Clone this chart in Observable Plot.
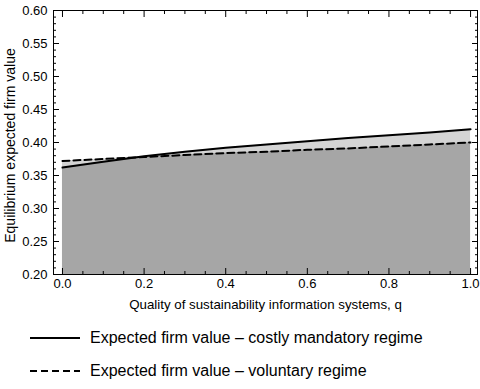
<!DOCTYPE html>
<html>
<head>
<meta charset="utf-8">
<script src="https://cdn.jsdelivr.net/npm/d3@7"></script>
<script src="https://cdn.jsdelivr.net/npm/@observablehq/plot@0.6"></script>
<style>
  body { margin: 0; background: #fff; font-family: "Liberation Sans", Arial, sans-serif; }
  #legend { padding-top: 6px; }
  .row { display: flex; align-items: center; height: 33px; }
  .row svg { margin-left: 30px; margin-right: 10px; }
  .row span { font-size: 16px; color: #000; }
</style>
</head>
<body>
<div id="chart"></div>
<div id="legend"></div>
<script>
const q = [0, 0.1, 0.2, 0.3, 0.4, 0.5, 0.6, 0.7, 0.8, 0.9, 1.0];
const mandatory = [0.362, 0.371, 0.379, 0.386, 0.392, 0.397, 0.402, 0.407, 0.411, 0.415, 0.420];
const voluntary = [0.372, 0.375, 0.378, 0.381, 0.384, 0.386, 0.389, 0.391, 0.394, 0.397, 0.400];
const seriesNames = ["Expected firm value \u2013 costly mandatory regime", "Expected firm value \u2013 voluntary regime"];
const xMajor = [0, 0.2, 0.4, 0.6, 0.8, 1.0];
const xMinor = [0.05, 0.1, 0.15, 0.25, 0.3, 0.35, 0.45, 0.5, 0.55, 0.65, 0.7, 0.75, 0.85, 0.9, 0.95];
const yMajor = [0.20, 0.25, 0.30, 0.35, 0.40, 0.45, 0.50, 0.55, 0.60];
const yMinor = d3.range(21, 60).filter(v => v % 5 !== 0).map(v => v / 100);

const data = q.map((v, i) => ({q: v, m: mandatory[i], v: voluntary[i],
  lo: Math.min(mandatory[i], voluntary[i]), hi: Math.max(mandatory[i], voluntary[i])}));

const font = "Liberation Sans, Arial, sans-serif";
const blank = () => "";
const chart = Plot.plot({
  width: 480,
  height: 315,
  marginLeft: 53,
  marginRight: 3,
  marginTop: 10,
  marginBottom: 41,
  style: {fontFamily: font, fontSize: "13px", background: "#fff", color: "#000"},
  x: {domain: [-0.022, 1.017]},
  y: {domain: [0.2, 0.6]},
  marks: [
    Plot.areaY(data, {x: "q", y1: 0.2, y2: "hi", fill: "#d4d4d4"}),
    Plot.areaY(data, {x: "q", y1: 0.2, y2: "lo", fill: "#a6a6a6"}),
    Plot.lineY(data, {x: "q", y: "m", stroke: "#000", strokeWidth: 2}),
    Plot.lineY(data, {x: "q", y: "v", stroke: "#000", strokeWidth: 2, strokeDasharray: "7,4"}),
    Plot.frame({stroke: "#000"}),
    Plot.axisX(xMajor, {anchor: "bottom", tickSize: -6, tickPadding: 10, tickFormat: d3.format(".1f"), fontSize: 13, label: null}),
    Plot.axisX(xMajor, {anchor: "top", tickSize: -6, tickFormat: blank, label: null}),
    Plot.axisX(xMinor, {anchor: "bottom", tickSize: -3, tickFormat: blank, label: null}),
    Plot.axisX(xMinor, {anchor: "top", tickSize: -3, tickFormat: blank, label: null}),
    Plot.axisY(yMajor, {anchor: "left", tickSize: -6, tickPadding: 12, tickFormat: d3.format(".2f"), fontSize: 13, label: null}),
    Plot.axisY(yMajor, {anchor: "right", tickSize: -6, tickFormat: blank, label: null}),
    Plot.axisY(yMinor, {anchor: "left", tickSize: -3, tickFormat: blank, label: null}),
    Plot.axisY(yMinor, {anchor: "right", tickSize: -3, tickFormat: blank, label: null}),
    Plot.text(["Quality of sustainability information systems, q"], {frameAnchor: "bottom", dy: 34, fontSize: 13.3, fill: "#000"}),
    Plot.text(["Equilibrium expected firm value"], {frameAnchor: "left", dx: -43, dy: 3, rotate: -90, textAnchor: "middle", fontSize: 14, fill: "#000"})
  ]
});
document.getElementById("chart").appendChild(chart);

const legend = document.getElementById("legend");
seriesNames.forEach((name, i) => {
  const row = document.createElement("div");
  row.className = "row";
  row.innerHTML = `<svg width="50" height="6"><line x1="0" y1="3" x2="50" y2="3" stroke="#000" stroke-width="2" ${i === 1 ? 'stroke-dasharray="7,4"' : ''}/></svg><span>${name}</span>`;
  legend.appendChild(row);
});
</script>
</body>
</html>
